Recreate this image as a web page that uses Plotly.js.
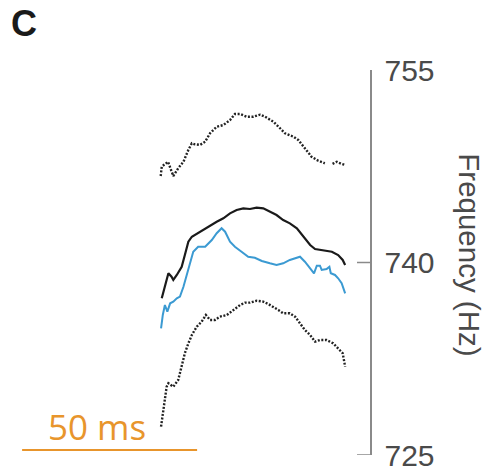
<!DOCTYPE html>
<html>
<head>
<meta charset="utf-8">
<script src="https://cdn.plot.ly/plotly-3.0.1.min.js"></script>
<style>html,body{margin:0;padding:0;background:#fff;}#chart{width:488px;height:473px;}</style>
</head>
<body>
<div id="chart"></div>
<script>
// Time (ms) and frequency (Hz) for each trace
var topT = [0.2,0.5,2.3,3.8,5.2,6.7,8.1,9.1,10.0,11.4,12.9,14.3,16.2,18.1,20.0,21.4,22.9,24.8,26.7,28.6,30.0,32.4,34.3,35.7,38.1,39.5,41.4,43.3,45.2,47.1,48.2,49.3,50.5,51.9,52.9];
var topF = [746.74,747.47,747.85,746.74,747.34,747.85,748.77,749.29,749.21,749.16,749.41,750.07,750.58,750.71,751.10,751.57,751.57,751.36,751.36,751.52,751.36,750.97,750.46,750.07,749.80,749.55,748.90,748.24,747.93,747.73,null,747.68,747.85,747.68,747.60];

var midT = [0.5,1.4,2.4,3.3,3.8,4.8,6.2,7.1,8.1,9.1,11.4,13.8,16.2,18.1,20.0,21.9,23.8,25.7,27.6,29.5,31.4,33.3,35.2,37.1,39.1,40.9,42.9,44.3,46.7,49.1,50.9,52.2,52.9];
var midF = [737.21,738.25,739.16,738.89,738.64,739.03,739.67,740.58,741.62,742.01,742.40,742.79,743.18,743.44,743.83,744.09,744.22,744.17,744.27,744.22,743.96,743.70,743.31,743.05,742.67,742.01,741.36,741.05,740.97,740.84,740.58,740.20,739.81];

var blueT = [0.3,0.8,1.4,2.1,2.9,3.8,4.8,5.7,6.7,8.1,9.5,10.9,12.9,14.8,16.2,17.6,18.6,20.0,21.4,23.3,25.2,27.1,29.1,31.4,33.3,35.2,37.1,40.0,41.4,42.9,44.0,44.8,45.7,46.2,47.6,48.4,48.8,50.0,50.9,51.9,52.9];
var blueF = [734.87,735.91,736.69,736.17,736.82,736.95,737.21,737.34,738.11,739.55,740.84,741.23,741.23,741.75,742.28,742.67,742.40,741.62,741.23,740.84,740.45,740.37,740.12,739.94,739.81,739.94,740.20,740.45,740.06,739.55,739.16,739.75,739.75,739.42,739.49,739.67,739.16,739.03,738.77,738.38,737.60];

var botT = [0.3,0.9,1.4,1.9,2.4,3.8,5.2,6.2,7.1,8.1,9.1,10.5,11.9,13.1,14.3,15.7,17.1,19.1,21.0,22.9,24.3,25.7,27.6,29.5,30.9,32.4,33.8,35.2,37.1,38.6,40.0,41.4,42.9,44.3,45.7,47.6,49.5,50.9,52.2,52.9];
var botF = [727.21,728.51,729.54,730.32,730.59,730.32,730.84,731.88,732.93,733.70,734.35,735.00,735.39,735.91,735.52,735.52,735.78,735.91,736.30,736.69,736.87,736.87,737.02,736.95,736.77,736.56,736.30,736.04,736.04,735.78,735.26,734.74,734.35,733.83,733.96,733.96,733.70,733.31,732.93,731.88];

var yTicks = [725, 740, 755];
var yTickText = ['725', '740', '755'];
var scaleBarMs = 50;
var scaleLabel = '50 ms';
var yTitle = 'Frequency (Hz)';
var panelLabel = 'C';

var traces = [
  {x: topT, y: topF, mode: 'lines', line: {color: '#222', width: 2.4, dash: '2px,1.6px'}, connectgaps: false},
  {x: midT, y: midF, mode: 'lines', line: {color: '#1a1a1a', width: 2.2}},
  {x: blueT, y: blueF, mode: 'lines', line: {color: '#3b9ad2', width: 2}},
  {x: botT, y: botF, mode: 'lines', line: {color: '#222', width: 2.4, dash: '2px,1.6px'}}
];

var shapes = [];
// tick marks (inside) for lower ticks
yTicks.forEach(function (v) {
  if (v === yTicks[yTicks.length - 1]) return;
  shapes.push({type: 'line', xref: 'paper', yref: 'y', x0: 0.9649, x1: 1, y0: v, y1: v,
    line: {color: '#8a8a8a', width: 1.5}});
});
// scale bar
var sbStart = -39.4;
shapes.push({type: 'line', xref: 'x', yref: 'paper', x0: sbStart, x1: sbStart + scaleBarMs,
  y0: 0.013, y1: 0.013, line: {color: '#e8952c', width: 2.2}});

var layout = {
  width: 488, height: 473,
  margin: {l: 0, r: 118, t: 70, b: 18},
  paper_bgcolor: '#fff', plot_bgcolor: 'rgba(0,0,0,0)',
  showlegend: false,
  font: {family: 'Liberation Sans, Arial, sans-serif', color: '#4a4a4a'},
  xaxis: {range: [-45.714, 60], visible: false, fixedrange: true},
  yaxis: {
    range: [725, 755], side: 'right', showgrid: false, zeroline: false,
    showline: true, linecolor: '#8a8a8a', linewidth: 1.5,
    tickvals: yTicks, ticktext: yTickText, ticks: '',
    ticklabelstandoff: 7,
    tickfont: {family: 'Liberation Sans, Arial, sans-serif', size: 30, color: '#4a4a4a'}
  },
  shapes: shapes,
  annotations: [
    {text: yTitle, xref: 'paper', yref: 'paper', x: 1.27, y: 0.519, textangle: 90,
      showarrow: false, xanchor: 'center', yanchor: 'middle',
      font: {family: 'Liberation Sans, Arial, sans-serif', size: 29.5, color: '#4a4a4a'}},
    {text: '<b>' + panelLabel + '</b>', xref: 'paper', yref: 'paper', x: 0.065, y: 1.122,
      showarrow: false, xanchor: 'center', yanchor: 'middle',
      font: {family: 'Liberation Sans, Arial, sans-serif', size: 36, color: '#1a1a1a'}},
    {text: scaleLabel, xref: 'x', yref: 'paper', x: sbStart + 21.5, y: 0.073,
      showarrow: false, xanchor: 'center', yanchor: 'middle',
      font: {family: 'Open Sans, sans-serif', size: 35, color: '#e8952c'}}
  ]
};

Plotly.newPlot('chart', traces, layout, {staticPlot: true, displayModeBar: false});
</script>
</body>
</html>
